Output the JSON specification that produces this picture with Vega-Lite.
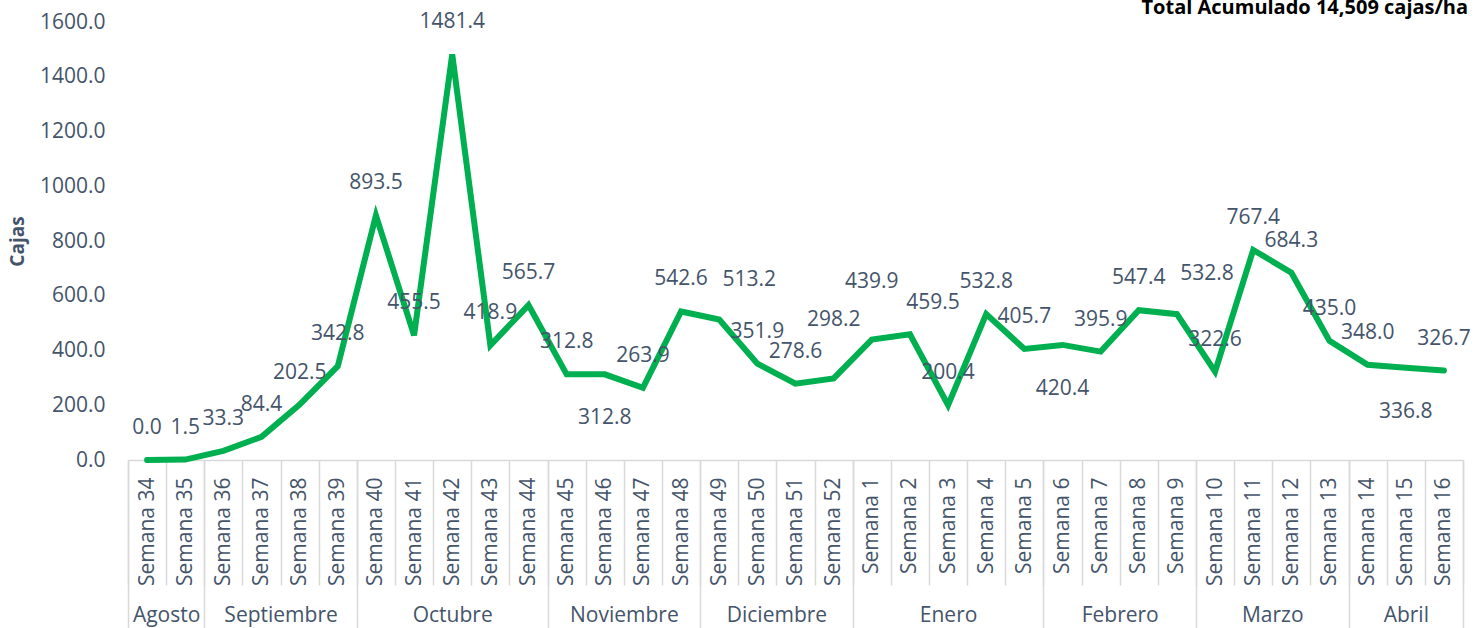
{
  "$schema": "https://vega.github.io/schema/vega-lite/v6.json",
  "autosize": {"type": "none"},
  "width": 1335,
  "height": 438,
  "padding": {"left": 128, "top": 22, "right": 13, "bottom": 168},
  "background": "white",
  "config": {
    "font": "Open Sans",
    "view": {"stroke": null},
    "axisY": {"grid": false}
  },
  "title": {
    "text": "Total Acumulado 14,509 cajas/ha",
    "anchor": "end",
    "frame": "group",
    "orient": "top",
    "fontSize": 20,
    "fontWeight": "bold",
    "color": "#000000",
    "baseline": "alphabetic",
    "offset": -5,
    "dx": 5,
    "dy": 18
  },
  "data": {
    "values": [
      {"semana": "Semana 34", "orden": 0, "mes": "Agosto", "cajas": 0.0},
      {"semana": "Semana 35", "orden": 1, "mes": "Agosto", "cajas": 1.5},
      {"semana": "Semana 36", "orden": 2, "mes": "Septiembre", "cajas": 33.3},
      {"semana": "Semana 37", "orden": 3, "mes": "Septiembre", "cajas": 84.4},
      {"semana": "Semana 38", "orden": 4, "mes": "Septiembre", "cajas": 202.5},
      {"semana": "Semana 39", "orden": 5, "mes": "Septiembre", "cajas": 342.8},
      {"semana": "Semana 40", "orden": 6, "mes": "Octubre", "cajas": 893.5},
      {"semana": "Semana 41", "orden": 7, "mes": "Octubre", "cajas": 455.5},
      {"semana": "Semana 42", "orden": 8, "mes": "Octubre", "cajas": 1481.4},
      {"semana": "Semana 43", "orden": 9, "mes": "Octubre", "cajas": 418.9},
      {"semana": "Semana 44", "orden": 10, "mes": "Octubre", "cajas": 565.7},
      {"semana": "Semana 45", "orden": 11, "mes": "Noviembre", "cajas": 312.8},
      {"semana": "Semana 46", "orden": 12, "mes": "Noviembre", "cajas": 312.8},
      {"semana": "Semana 47", "orden": 13, "mes": "Noviembre", "cajas": 263.9},
      {"semana": "Semana 48", "orden": 14, "mes": "Noviembre", "cajas": 542.6},
      {"semana": "Semana 49", "orden": 15, "mes": "Diciembre", "cajas": 513.2},
      {"semana": "Semana 50", "orden": 16, "mes": "Diciembre", "cajas": 351.9},
      {"semana": "Semana 51", "orden": 17, "mes": "Diciembre", "cajas": 278.6},
      {"semana": "Semana 52", "orden": 18, "mes": "Diciembre", "cajas": 298.2},
      {"semana": "Semana 1", "orden": 19, "mes": "Enero", "cajas": 439.9},
      {"semana": "Semana 2", "orden": 20, "mes": "Enero", "cajas": 459.5},
      {"semana": "Semana 3", "orden": 21, "mes": "Enero", "cajas": 200.4},
      {"semana": "Semana 4", "orden": 22, "mes": "Enero", "cajas": 532.8},
      {"semana": "Semana 5", "orden": 23, "mes": "Enero", "cajas": 405.7},
      {"semana": "Semana 6", "orden": 24, "mes": "Febrero", "cajas": 420.4},
      {"semana": "Semana 7", "orden": 25, "mes": "Febrero", "cajas": 395.9},
      {"semana": "Semana 8", "orden": 26, "mes": "Febrero", "cajas": 547.4},
      {"semana": "Semana 9", "orden": 27, "mes": "Febrero", "cajas": 532.8},
      {"semana": "Semana 10", "orden": 28, "mes": "Marzo", "cajas": 322.6},
      {"semana": "Semana 11", "orden": 29, "mes": "Marzo", "cajas": 767.4},
      {"semana": "Semana 12", "orden": 30, "mes": "Marzo", "cajas": 684.3},
      {"semana": "Semana 13", "orden": 31, "mes": "Marzo", "cajas": 435.0},
      {"semana": "Semana 14", "orden": 32, "mes": "Abril", "cajas": 348.0},
      {"semana": "Semana 15", "orden": 33, "mes": "Abril", "cajas": 336.8},
      {"semana": "Semana 16", "orden": 34, "mes": "Abril", "cajas": 326.7}
    ]
  },
  "encoding": {
    "y": {
      "field": "cajas",
      "type": "quantitative",
      "scale": {"domain": [0, 1600], "nice": false, "zero": true},
      "axis": {
        "values": [0, 200, 400, 600, 800, 1000, 1200, 1400, 1600],
        "format": ".1f",
        "domain": false,
        "ticks": false,
        "grid": false,
        "labelPadding": 23,
        "labelFontSize": 21,
        "labelColor": "#44546A",
        "title": "Cajas",
        "titleFontSize": 19,
        "titleFontWeight": "bold",
        "titleColor": "#44546A",
        "titlePadding": 12
      }
    }
  },
  "layer": [
    {
      "mark": {"type": "line", "color": "#00B050", "strokeWidth": 6, "strokeCap": "round", "strokeJoin": "miter"},
      "encoding": {
        "x": {
          "field": "semana",
          "type": "nominal",
          "sort": null,
          "bandPosition": 0.5,
          "scale": {"type": "band", "paddingInner": 0, "paddingOuter": 0},
          "axis": {
            "orient": "bottom",
            "title": null,
            "tickBand": "extent",
            "tickSize": 125,
            "tickColor": "#D9D9D9",
            "tickWidth": 1.5,
            "domain": true,
            "domainColor": "#D9D9D9",
            "domainWidth": 1.5,
            "labelAngle": 270,
            "labelAlign": "right",
            "labelBaseline": "middle",
            "labelPadding": -108,
            "labelFontSize": 21,
            "labelColor": "#44546A",
            "labelOverlap": false
          }
        }
      }
    },
    {
      "transform": [{"filter": "indexof(['Semana 46','Semana 6','Semana 15','Semana 52','Semana 1','Semana 49','Semana 9','Semana 2'], datum.semana) < 0"}],
      "mark": {"type": "text", "fontSize": 21, "color": "#44546A", "dy": -32, "align": "center", "baseline": "middle"},
      "encoding": {
        "x": {
          "field": "orden",
          "type": "quantitative",
          "scale": {"domain": [-0.5, 34.5], "nice": false, "zero": false},
          "axis": {
            "orient": "bottom",
            "title": null,
            "values": [-0.5, 1.5, 5.5, 10.5, 14.5, 18.5, 23.5, 27.5, 31.5, 34.5],
            "labels": false,
            "domain": false,
            "grid": false,
            "ticks": true,
            "tickSize": 168,
            "tickColor": "#D9D9D9",
            "tickWidth": 1.5
          }
        },
        "text": {"field": "cajas", "type": "quantitative", "format": ".1f"}
      }
    },
    {
      "transform": [{"filter": "indexof(['Semana 46','Semana 6','Semana 15'], datum.semana) >= 0"}],
      "mark": {"type": "text", "fontSize": 21, "color": "#44546A", "dy": 44, "align": "center", "baseline": "middle"},
      "encoding": {
        "x": {
          "field": "orden",
          "type": "quantitative",
          "scale": {"domain": [-0.5, 34.5], "nice": false, "zero": false},
          "axis": {
            "orient": "bottom",
            "title": null,
            "values": [0.5, 3.5, 8, 12.5, 16.5, 21, 25.5, 29.5, 33],
            "labelExpr": "datum.value == 0.5 ? 'Agosto' : datum.value == 3.5 ? 'Septiembre' : datum.value == 8 ? 'Octubre' : datum.value == 12.5 ? 'Noviembre' : datum.value == 16.5 ? 'Diciembre' : datum.value == 21 ? 'Enero' : datum.value == 25.5 ? 'Febrero' : datum.value == 29.5 ? 'Marzo' : 'Abril'",
            "ticks": false,
            "domain": false,
            "grid": false,
            "labelPadding": 155,
            "labelBaseline": "middle",
            "labelAlign": "center",
            "labelFlush": false,
            "labelOverlap": false,
            "labelBound": false,
            "labelFontSize": 21,
            "labelColor": "#44546A"
          }
        },
        "text": {"field": "cajas", "type": "quantitative", "format": ".1f"}
      }
    },
    {
      "transform": [{"filter": "indexof(['Semana 52','Semana 1'], datum.semana) >= 0"}],
      "mark": {"type": "text", "fontSize": 21, "color": "#44546A", "dy": -58, "align": "center", "baseline": "middle"},
      "encoding": {
        "x": {"field": "orden", "type": "quantitative", "scale": {"domain": [-0.5, 34.5], "nice": false, "zero": false}, "axis": null},
        "text": {"field": "cajas", "type": "quantitative", "format": ".1f"}
      }
    },
    {
      "transform": [{"filter": "indexof(['Semana 49','Semana 9'], datum.semana) >= 0"}],
      "mark": {"type": "text", "fontSize": 21, "color": "#44546A", "dy": -40, "dx": 30, "align": "center", "baseline": "middle"},
      "encoding": {
        "x": {"field": "orden", "type": "quantitative", "scale": {"domain": [-0.5, 34.5], "nice": false, "zero": false}, "axis": null},
        "text": {"field": "cajas", "type": "quantitative", "format": ".1f"}
      }
    },
    {
      "transform": [{"filter": "datum.semana == 'Semana 2'"}],
      "mark": {"type": "text", "fontSize": 21, "color": "#44546A", "dy": -31, "dx": 23, "align": "center", "baseline": "middle"},
      "encoding": {
        "x": {"field": "orden", "type": "quantitative", "scale": {"domain": [-0.5, 34.5], "nice": false, "zero": false}, "axis": null},
        "text": {"field": "cajas", "type": "quantitative", "format": ".1f"}
      }
    }
  ],
  "resolve": {"scale": {"x": "independent"}}
}
